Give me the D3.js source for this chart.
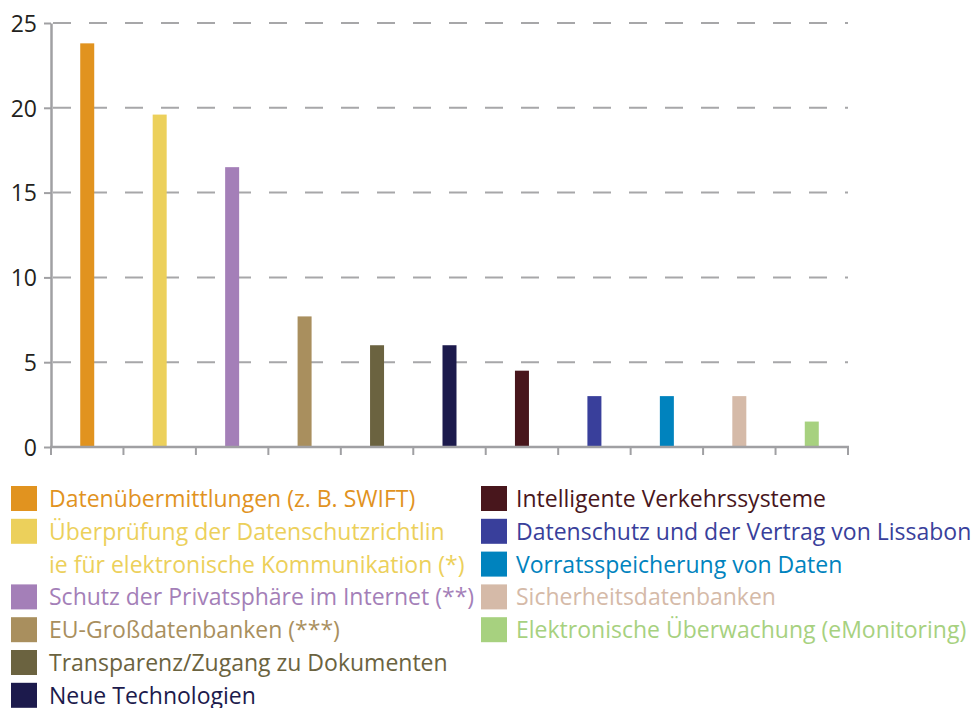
<!DOCTYPE html>
<html>
<head>
<meta charset="utf-8">
<script src="https://cdn.jsdelivr.net/npm/d3@7"></script>
<style>
  body { margin: 0; background: #fff; }
  svg { display: block; font-family: "Open Sans", sans-serif; }
</style>
</head>
<body>
<svg width="978" height="708"></svg>
<script>
var categories = [
  "Datenübermittlungen (z. B. SWIFT)",
  "Überprüfung der Datenschutzrichtlinie für elektronische Kommunikation (*)",
  "Schutz der Privatsphäre im Internet (**)",
  "EU-Großdatenbanken (***)",
  "Transparenz/Zugang zu Dokumenten",
  "Neue Technologien",
  "Intelligente Verkehrssysteme",
  "Datenschutz und der Vertrag von Lissabon",
  "Vorratsspeicherung von Daten",
  "Sicherheitsdatenbanken",
  "Elektronische Überwachung (eMonitoring)"
];
var values = [23.8, 19.6, 16.5, 7.7, 6.0, 6.0, 4.5, 3.0, 3.0, 3.0, 1.5];
var colors = ["#e1931f", "#ecd05b", "#a47fb8", "#a98f5e", "#6b6340", "#1c1a4c",
              "#48161c", "#393f9b", "#0083be", "#d5baa8", "#a7d17f"];
// legend lines (the second entry wraps onto two lines in the original)
var legendLines = [
  ["Datenübermittlungen (z. B. SWIFT)"],
  ["Überprüfung der Datenschutzrichtlin", "ie für elektronische Kommunikation (*)"],
  ["Schutz der Privatsphäre im Internet (**)"],
  ["EU-Großdatenbanken (***)"],
  ["Transparenz/Zugang zu Dokumenten"],
  ["Neue Technologien"],
  ["Intelligente Verkehrssysteme"],
  ["Datenschutz und der Vertrag von Lissabon"],
  ["Vorratsspeicherung von Daten"],
  ["Sicherheitsdatenbanken"],
  ["Elektronische Überwachung (eMonitoring)"]
];
var yTicks = [0, 5, 10, 15, 20, 25];

var svg = d3.select("svg");
var plotLeft = 51, plotRight = 848, plotTop = 23, plotBottom = 447;

var x = d3.scaleBand()
  .domain(categories)
  .range([plotLeft, plotRight]);

var y = d3.scaleLinear()
  .domain([0, 25])
  .range([plotBottom, plotTop]);

// dashed grid lines
svg.selectAll("line.grid")
  .data(yTicks.slice(1))
  .enter()
  .append("line")
  .attr("class", "grid")
  .attr("x1", plotLeft + 2)
  .attr("x2", plotRight)
  .attr("y1", function(d) { return y(d); })
  .attr("y2", function(d) { return y(d); })
  .style("stroke", "#a7a7a9")
  .style("stroke-width", 2)
  .style("stroke-dasharray", "18,18");

// bars
var barW = 14;
svg.selectAll("rect.bar")
  .data(values)
  .enter()
  .append("rect")
  .attr("class", "bar")
  .attr("x", function(d, i) { return x(categories[i]) + x.bandwidth() / 2 - barW / 2; })
  .attr("width", barW)
  .attr("y", function(d) { return y(d); })
  .attr("height", function(d) { return plotBottom - y(d); })
  .style("fill", function(d, i) { return colors[i]; });

// y axis
var yAxis = svg.append("g")
  .attr("transform", "translate(" + plotLeft + ",0)")
  .call(d3.axisLeft(y).tickValues(yTicks).tickSize(7).tickSizeOuter(0).tickPadding(7));
yAxis.select(".domain").style("stroke", "#a0a0a3").style("stroke-width", 2.5);
yAxis.selectAll(".tick line").style("stroke", "#a0a0a3").style("stroke-width", 2);
yAxis.selectAll("text")
  .style("font-family", "'Open Sans', sans-serif")
  .style("font-size", "23px")
  .style("fill", "#231f20")
  .attr("dy", "0.36em");

// x axis: ticks at the band boundaries, no labels
var xBounds = categories.map(function(c) { return x(c); }).concat([plotRight]);
var xAxis = svg.append("g")
  .attr("transform", "translate(0," + plotBottom + ")");
xAxis.append("line")
  .attr("x1", plotLeft - 1)
  .attr("x2", plotRight + 1)
  .style("stroke", "#a0a0a3")
  .style("stroke-width", 2.5);
xAxis.selectAll("line.tick")
  .data(xBounds)
  .enter()
  .append("line")
  .attr("class", "tick")
  .attr("x1", function(d) { return d; })
  .attr("x2", function(d) { return d; })
  .attr("y1", 0)
  .attr("y2", 8)
  .style("stroke", "#a0a0a3")
  .style("stroke-width", 2);

// legend: two columns, 7 rows on the left (one wraps), 5 on the right
var rowH = 32.8;
var legendRows = [];
var row = 0;
legendLines.forEach(function(lines, i) {
  if (i === 6) row = 0;
  legendRows.push({ i: i, lines: lines, col: i < 6 ? 0 : 1, row: row });
  row += lines.length;
});

var legend = svg.selectAll("g.legend")
  .data(legendRows)
  .enter()
  .append("g")
  .attr("class", "legend")
  .attr("transform", function(d) {
    return "translate(" + (d.col === 0 ? 11 : 481) + "," + (486 + d.row * rowH) + ")";
  });

legend.append("rect")
  .attr("width", 26)
  .attr("height", 25)
  .style("fill", function(d) { return colors[d.i]; });

legend.selectAll("text")
  .data(function(d) { return d.lines.map(function(t) { return { t: t, i: d.i }; }); })
  .enter()
  .append("text")
  .attr("x", function(d) { return d.i < 6 ? 38 : 35; })
  .attr("y", function(d, j) { return 21 + j * rowH; })
  .style("font-size", "23px")
  .style("fill", function(d) { return colors[d.i]; })
  .text(function(d) { return d.t; });
</script>
</body>
</html>
